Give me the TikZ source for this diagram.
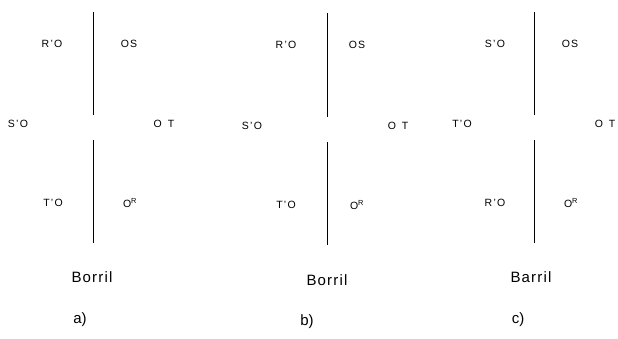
\documentclass[tikz,border=0pt]{standalone}
\usepackage{fontspec}
\setmainfont{Liberation Sans}
\begin{document}
\begin{tikzpicture}[x=1pt,y=-1pt,
  lbl/.style={font=\fontsize{10.5}{11}\selectfont\addfontfeature{LetterSpace=12}, inner sep=0pt},
  captext/.style={font=\fontsize{15}{16}\selectfont\addfontfeature{LetterSpace=8}, inner sep=0pt},
  tagtext/.style={font=\fontsize{15}{16}\selectfont, inner sep=0pt},
  bar/.style={line width=0.8pt}]
\useasboundingbox (0,0) rectangle (618,338);
% panel a
\coordinate (a1) at (93,12); \coordinate (a2) at (93,115);
\coordinate (a3) at (93,140); \coordinate (a4) at (93,243);
\draw[bar] (a1) -- (a2); \draw[bar] (a3) -- (a4);
\node[lbl] (aRO) at (52,44) {R'O};
\node[lbl] (aOS) at (129,44) {OS};
\node[lbl] (aSO) at (18,124) {S'O};
\node[lbl] (aOT) at (164,124) {O\, T};
\node[lbl] (aTO) at (53,203) {T'O};
\node[lbl] (aOR) at (130,203) {O\textsuperscript{R}};
\node[captext] (aB) at (92,277) {Borril};
\node[tagtext] (aL) at (80,320) {a)};
% panel b
\coordinate (b1) at (327,13); \coordinate (b2) at (327,117);
\coordinate (b3) at (327,142); \coordinate (b4) at (327,245);
\draw[bar] (b1) -- (b2); \draw[bar] (b3) -- (b4);
\node[lbl] (bRO) at (286,45) {R'O};
\node[lbl] (bOS) at (357,45) {OS};
\node[lbl] (bSO) at (252,126) {S'O};
\node[lbl] (bOT) at (398,126) {O\, T};
\node[lbl] (bTO) at (286,205) {T'O};
\node[lbl] (bOR) at (357,205) {O\textsuperscript{R}};
\node[captext] (bB) at (327,280) {Borril};
\node[tagtext] (bL) at (307,322) {b)};
% panel c
\coordinate (c1) at (534,12); \coordinate (c2) at (534,115);
\coordinate (c3) at (534,140); \coordinate (c4) at (534,243);
\draw[bar] (c1) -- (c2); \draw[bar] (c3) -- (c4);
\node[lbl] (cSO) at (495,44) {S'O};
\node[lbl] (cOS) at (570,44) {OS};
\node[lbl] (cTO) at (462,124) {T'O};
\node[lbl] (cOT) at (605,124) {O\, T};
\node[lbl] (cRO) at (495,203) {R'O};
\node[lbl] (cOR) at (571,203) {O\textsuperscript{R}};
\node[captext] (cB) at (531,277) {Barril};
\node[tagtext] (cL) at (518,320) {c)};
\end{tikzpicture}
\end{document}
